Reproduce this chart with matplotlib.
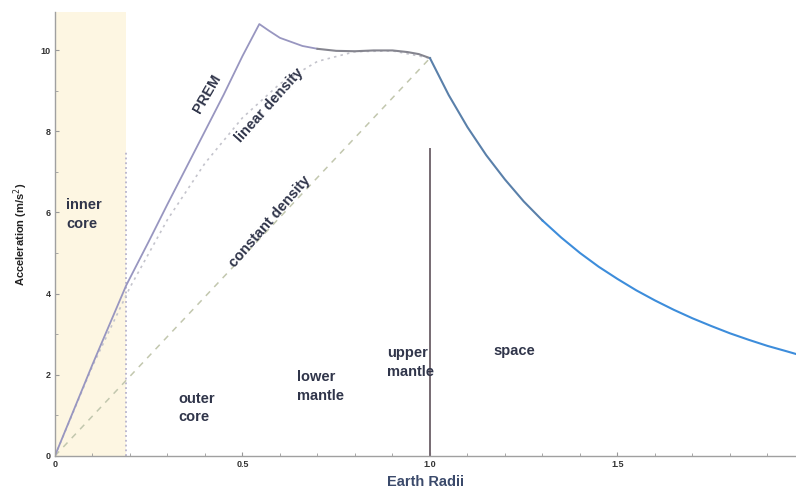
import matplotlib.pyplot as plt
from matplotlib.ticker import MultipleLocator

plt.rcParams['font.family'] = ['Liberation Sans', 'DejaVu Sans']

# PREM gravity inside the Earth (radius in Earth radii, g in m/s^2)
prem_core_r = [0.0, 0.10, 0.19, 0.25, 0.30, 0.35, 0.40, 0.45, 0.50, 0.545,
               0.57, 0.60, 0.63, 0.66, 0.70]
prem_core_g = [0.0, 2.25, 4.2, 5.28, 6.2, 7.1, 8.0, 8.9, 9.85, 10.64,
               10.48, 10.3, 10.2, 10.1, 10.03]
prem_mantle_r = [0.70, 0.75, 0.80, 0.85, 0.90, 0.94, 0.97, 1.0]
prem_mantle_g = [10.03, 9.98, 9.97, 9.99, 9.99, 9.95, 9.9, 9.8]

# outside the Earth
space_near_r = [1.0, 1.05, 1.10, 1.15, 1.20, 1.25, 1.30]
space_near_g = [9.8, 8.89, 8.10, 7.41, 6.81, 6.27, 5.80]
space_far_r = [1.30, 1.35, 1.40, 1.45, 1.50, 1.55, 1.60, 1.65, 1.70, 1.75,
               1.80, 1.85, 1.90, 1.95, 1.98]
space_far_g = [5.80, 5.38, 5.00, 4.66, 4.36, 4.08, 3.83, 3.60, 3.39, 3.20,
               3.02, 2.86, 2.71, 2.58, 2.50]

# simple density models
lin_r = [0.0, 0.1, 0.2, 0.3, 0.4, 0.5, 0.6, 0.7, 0.8, 0.9, 1.0]
lin_g = [0.0, 2.21, 4.15, 5.82, 7.21, 8.33, 9.17, 9.72, 9.96, 9.98, 9.8]
const_r = [0.0, 1.0]
const_g = [0.0, 9.8]

inner_core_r = 0.19
x_ticks = [0, 0.5, 1.0, 1.5]
x_labels = ['0', '0.5', '1.0', '1.5']
y_ticks = [0, 2, 4, 6, 8, 10]

fig = plt.figure(figsize=(7.96, 4.95), dpi=100)
ax = fig.add_axes([0.069, 0.079, 0.931, 0.897])

ax.axvspan(0, inner_core_r, color='#fdf6e2', lw=0, zorder=0)
ax.plot([inner_core_r, inner_core_r], [0, 7.5], ls=':', color='#b8b4cc', lw=1.3)
ax.plot([1.0, 1.0], [0, 7.55], color='#766a72', lw=1.4)

ax.plot(const_r, const_g, ls=(0, (4, 4)), color='#c2c7ae', lw=1.1)
ax.plot(lin_r, lin_g, ls=(0, (1.5, 2.5)), color='#c4c4cc', lw=1.2)
ax.plot(prem_core_r, prem_core_g, color='#9896c0', lw=1.3)
ax.plot(prem_mantle_r, prem_mantle_g, color='#85858f', lw=1.5)
ax.plot(space_near_r, space_near_g, color='#5a80aa', lw=1.5)
ax.plot(space_far_r, space_far_g, color='#3d8ddb', lw=1.5)

txt = dict(fontsize=10.5, fontweight='bold', color='#30354a', linespacing=1.45)
ax.text(0.03, 5.95, 'inner\ncore', ha='left', va='center', **txt)
ax.text(0.328, 1.18, 'outer\ncore', ha='left', va='center', **txt)
ax.text(0.645, 1.7, 'lower\nmantle', ha='left', va='center', **txt)
ax.text(0.885, 2.3, 'upper\nmantle', ha='left', va='center', **txt)
ax.text(1.168, 2.59, 'space', ha='left', va='center', **txt)

ax.text(0.407, 8.93, 'PREM', rotation=60, ha='center', va='center', **txt)
ax.text(0.573, 8.65, 'linear density', rotation=48, ha='center', va='center', **txt)
ax.text(0.573, 5.77, 'constant density', rotation=49, ha='center', va='center', **txt)

ax.set_xlim(0, 1.976)
ax.set_ylim(0, 10.94)
ax.set_xticks(x_ticks)
ax.set_xticklabels(x_labels)
ax.set_yticks(y_ticks)
ax.xaxis.set_minor_locator(MultipleLocator(0.1))
ax.yaxis.set_minor_locator(MultipleLocator(1))
ax.tick_params(which='both', direction='in', color='#999999', labelsize=6.5,
               labelcolor='#333333')
ax.tick_params(which='major', length=3, pad=3)
ax.tick_params(which='minor', length=2)
for lab in ax.get_xticklabels() + ax.get_yticklabels():
    lab.set_fontweight('bold')

for s in ['top', 'right']:
    ax.spines[s].set_visible(False)
for s in ['left', 'bottom']:
    ax.spines[s].set_color('#a0a0a0')
    ax.spines[s].set_linewidth(1.0)

ax.set_xlabel('Earth Radii', fontsize=10.5, fontweight='bold', color='#3b4a6b', labelpad=4)
ax.set_ylabel('Acceleration (m/s$^2$)', fontsize=8, fontweight='bold', color='#222222', labelpad=8)

fig.savefig('out.png', dpi=100)
